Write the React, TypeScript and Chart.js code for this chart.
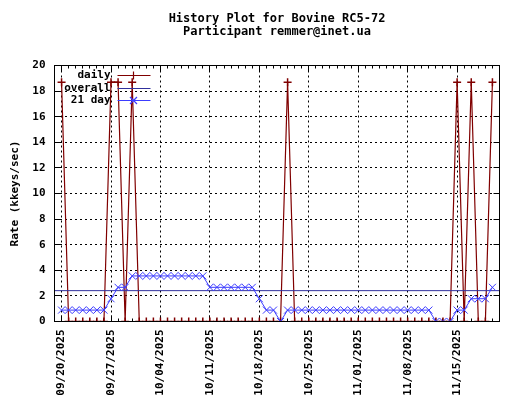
import React, { useEffect, useRef } from "react";
import { Chart, registerables } from "chart.js";

Chart.register(...registerables);

// ---------- data ----------
const TITLE_LINES = ["History Plot for Bovine RC5-72", "Participant remmer@inet.ua"];
const Y_TITLE = "Rate (kkeys/sec)";
const SERIES_NAMES = ["daily", "overall", "21 day"];
const SERIES_COLORS = ["#800000", "#30309c", "#3c3cff"];

// x is "days since 09/19/2025"; the axis spans 09/19 .. 11/21
const X_MIN = 0;
const X_MAX = 63;
const FIRST_DAY = 1; // 09/20/2025

const TICK_DAYS = [1, 8, 15, 22, 29, 36, 43, 50, 57];
const TICK_LABELS = [
  "09/20/2025", "09/27/2025", "10/04/2025", "10/11/2025", "10/18/2025",
  "10/25/2025", "11/01/2025", "11/08/2025", "11/15/2025",
];
const Y_MIN = 0;
const Y_MAX = 20;
const Y_STEP = 2;

// daily rate, 09/20 .. 11/20
const DAILY = [
  18.7, 0, 0, 0, 0, 0, 0, 18.7, 18.7, 0,
  18.7, 0, 0, 0, 0, 0, 0, 0, 0, 0,
  0, 0, 0, 0, 0, 0, 0, 0, 0, 0,
  0, 0, 18.7, 0, 0, 0, 0, 0, 0, 0,
  0, 0, 0, 0, 0, 0, 0, 0, 0, 0,
  0, 0, 0, 0, 0, 0, 18.7, 0, 18.7, 0,
  0, 18.7,
];

// 21-day average, 09/20 .. 11/20
const AVG21 = [
  0.89, 0.89, 0.89, 0.89, 0.89, 0.89, 0.89, 1.78, 2.67, 2.67,
  3.56, 3.56, 3.56, 3.56, 3.56, 3.56, 3.56, 3.56, 3.56, 3.56,
  3.56, 2.67, 2.67, 2.67, 2.67, 2.67, 2.67, 2.67, 1.78, 0.89,
  0.89, 0, 0.89, 0.89, 0.89, 0.89, 0.89, 0.89, 0.89, 0.89,
  0.89, 0.89, 0.89, 0.89, 0.89, 0.89, 0.89, 0.89, 0.89, 0.89,
  0.89, 0.89, 0.89, 0, 0, 0, 0.89, 0.89, 1.78, 1.78,
  1.78, 2.67,
];

// overall average (spans whole x range)
const OVERALL_X = [X_MIN, X_MAX];
const OVERALL = [2.41, 2.41];

const FONT = "bold 11px 'DejaVu Sans Mono', 'Liberation Mono', monospace";
const TITLE_FONT = "bold 12px 'DejaVu Sans Mono', 'Liberation Mono', monospace";

function drawMarker(ctx: CanvasRenderingContext2D, kind: string, x: number, y: number, r: number) {
  ctx.beginPath();
  if (kind === "cross") {
    ctx.moveTo(x - r, y); ctx.lineTo(x + r, y);
    ctx.moveTo(x, y - r); ctx.lineTo(x, y + r);
  } else {
    ctx.moveTo(x - r, y - r); ctx.lineTo(x + r, y + r);
    ctx.moveTo(x - r, y + r); ctx.lineTo(x + r, y - r);
  }
  ctx.stroke();
}

const decorPlugin = {
  id: "gnuplotDecor",
  beforeDatasetsDraw(chart: any) {
    const { ctx, chartArea, scales } = chart;
    const { left, right, top, bottom } = chartArea;
    const x = scales.x, y = scales.y;
    ctx.save();
    ctx.strokeStyle = "#000";
    ctx.lineWidth = 1;
    ctx.beginPath();
    for (let d = X_MIN; d <= X_MAX; d++) {
      const px = Math.floor(x.getPixelForValue(d)) + 0.5;
      const len = TICK_DAYS.includes(d) ? 6 : 3;
      ctx.moveTo(px, bottom); ctx.lineTo(px, bottom - len);
      ctx.moveTo(px, top); ctx.lineTo(px, top + len);
    }
    for (let v = Y_MIN; v <= Y_MAX; v += Y_STEP) {
      const py = Math.floor(y.getPixelForValue(v)) + 0.5;
      ctx.moveTo(left, py); ctx.lineTo(left + 6, py);
      ctx.moveTo(right, py); ctx.lineTo(right - 6, py);
    }
    ctx.stroke();
    ctx.restore();
  },
  afterDatasetsDraw(chart: any) {
    const { ctx, chartArea } = chart;
    const { left, right, top, bottom } = chartArea;
    ctx.save();
    ctx.strokeStyle = "#000";
    ctx.lineWidth = 1;
    ctx.strokeRect(left, top, right - left, bottom - top);

    // legend
    ctx.font = FONT;
    ctx.textAlign = "right";
    ctx.textBaseline = "middle";
    SERIES_NAMES.forEach((name, i) => {
      const ly = Math.floor(top + 10 + i * 12.7) + 0.5;
      ctx.fillStyle = "#000";
      ctx.fillText(name, left + 56, ly);
      ctx.strokeStyle = SERIES_COLORS[i];
      ctx.lineWidth = 1.2;
      ctx.beginPath();
      ctx.moveTo(left + 63, ly); ctx.lineTo(left + 96, ly);
      ctx.stroke();
      if (i === 0) drawMarker(ctx, "cross", left + 79, ly, 4);
      if (i === 2) drawMarker(ctx, "crossRot", left + 79, ly, 3.5);
    });
    ctx.lineWidth = 1;

    // title
    ctx.fillStyle = "#000";
    ctx.font = TITLE_FONT;
    ctx.textAlign = "center";
    const cx = (left + right) / 2;
    ctx.fillText(TITLE_LINES[0], cx, 19);
    ctx.fillText(TITLE_LINES[1], cx, 32);

    // y title
    ctx.font = FONT;
    ctx.translate(15, (top + bottom) / 2);
    ctx.rotate(-Math.PI / 2);
    ctx.textAlign = "center";
    ctx.fillText(Y_TITLE, 0, 0);
    ctx.restore();
  },
};

export default function App() {
  const ref = useRef<HTMLCanvasElement | null>(null);
  useEffect(() => {
    if (!ref.current) return;
    const dailyPts = DAILY.map((v, i) => ({ x: FIRST_DAY + i, y: v }));
    const avgPts = AVG21.map((v, i) => ({ x: FIRST_DAY + i, y: v }));
    const overallPts = OVERALL.map((v, i) => ({ x: OVERALL_X[i], y: v }));
    const tickFont = { family: "'DejaVu Sans Mono', 'Liberation Mono', monospace", size: 11, weight: "bold" as const };
    const chart = new Chart(ref.current, {
      type: "line",
      data: {
        datasets: [
          {
            label: SERIES_NAMES[0], data: dailyPts, borderColor: SERIES_COLORS[0],
            borderWidth: 1.2, pointStyle: "cross", pointRadius: 4, pointBorderWidth: 1.5,
            pointBorderColor: SERIES_COLORS[0], tension: 0, order: 3,
          },
          {
            label: SERIES_NAMES[1], data: overallPts, borderColor: SERIES_COLORS[1],
            borderWidth: 1, pointRadius: 0, tension: 0, order: 2,
          },
          {
            label: SERIES_NAMES[2], data: avgPts, borderColor: SERIES_COLORS[2],
            borderWidth: 1, pointStyle: "crossRot", pointRadius: 5, pointBorderWidth: 1,
            pointBorderColor: SERIES_COLORS[2], tension: 0, order: 1,
          },
        ],
      },
      options: {
        animation: false,
        responsive: false,
        layout: { padding: { top: 65.5, right: 20.5, left: 0, bottom: 0 } },
        plugins: { legend: { display: false }, tooltip: { enabled: false }, title: { display: false } },
        scales: {
          x: {
            type: "linear", min: X_MIN, max: X_MAX,
            afterFit: (s: any) => { s.height = 78.5; },
            afterBuildTicks: (s: any) => { s.ticks = TICK_DAYS.map((v) => ({ value: v })); },
            ticks: {
              autoSkip: false, minRotation: 90, maxRotation: 90, padding: 8, color: "#000", font: tickFont,
              callback: (v: any) => { const k = TICK_DAYS.indexOf(Number(v)); return k >= 0 ? TICK_LABELS[k] : ""; },
            },
            grid: { color: "#000", lineWidth: 1, drawTicks: false },
            border: { display: false, dash: [2, 3] },
          },
          y: {
            type: "linear", min: Y_MIN, max: Y_MAX,
            afterFit: (s: any) => { s.width = 54.5; },
            ticks: { stepSize: Y_STEP, padding: 9, color: "#000", font: tickFont },
            grid: { color: "#000", lineWidth: 1, drawTicks: false },
            border: { display: false, dash: [2, 3] },
          },
        },
      },
      plugins: [decorPlugin],
    });
    return () => chart.destroy();
  }, []);
  return (
    <div style={{ position: "absolute", left: 0, top: 0, width: 520, height: 400, background: "#fff" }}>
      <canvas ref={ref} width={520} height={400} style={{ display: "block" }} />
    </div>
  );
}
